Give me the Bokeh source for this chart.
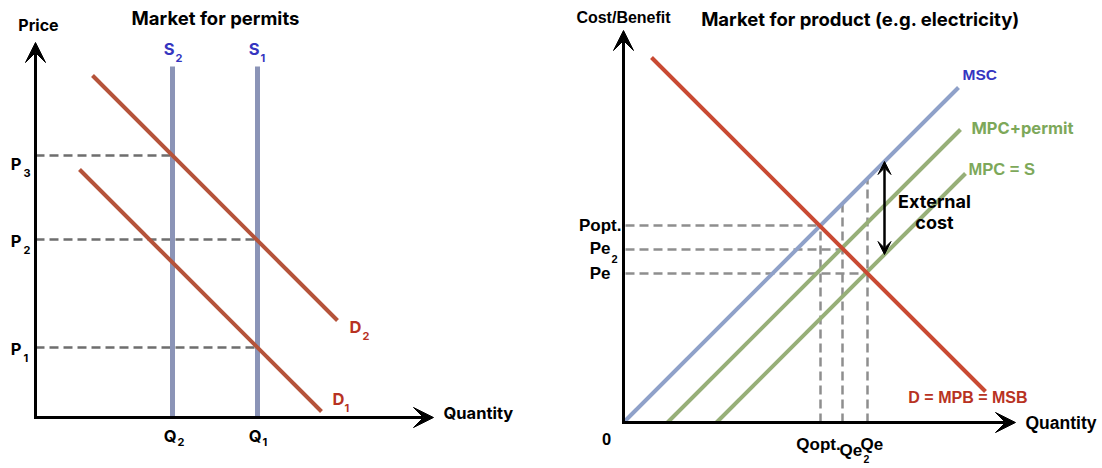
import numpy as np
from bokeh.plotting import figure
from bokeh.models import Range1d, Label, Arrow, VeeHead
from bokeh.layouts import row
from bokeh.embed import file_html
from bokeh.resources import INLINE

# ---------------- data: market for permits ----------------
permit_title = "Market for permits"
supply_q = [137, 222]            # S2, S1 (quantity of permits)
supply_subs = ["2", "1"]
supply_top = 351
price_levels = [262, 178, 70]    # P3, P2, P1
price_subs = ["3", "2", "1"]
price_end_q = [137, 222, 222]    # where each price meets its supply line
d2_q = [57, 302]
d2_p = [342, 97]
d1_q = [44, 286]
d1_p = [248, 6]
left_axis_ext = [398, 375]       # x tip, y tip

# ---------------- data: market for product ----------------
product_title = "Market for product (e.g. electricity)"
mpb_q = [28, 362]
mpb_p = [365, 31]
msc_q = [0, 335]
msc_p = [0, 335]
mpcp_q = [44, 337]
mpcp_p = [0, 293]
mpc_q = [93, 342]
mpc_p = [0, 249]
eq_q = [197, 219, 244]           # Qopt, Qe2, Qe
eq_p = [197, 173, 149]           # Popt, Pe2, Pe
ext_cost_q = 261
right_axis_ext = [392, 392]

# ---------------- styles ----------------
SANS = "Inter"
ARIAL = "Liberation Sans"
BLACK = "#000000"
S_COL = "#8b94b7"
D_COL = "#b5533a"
DASH_L = "#6e6e6e"
DASH_R = "#8e8e8e"
LBL_BLUE = "#3535c0"
LBL_RED = "#b83222"
MPB_COL = "#c94a33"
MSC_COL = "#8fa1c9"
GREEN = "#97af78"
LBL_GREEN = "#7da85a"


def lbl(p, x, y, text, size=13, color=BLACK, font=SANS, align="left",
        dx=0, dy=0, style="bold"):
    p.add_layout(Label(x=x + dx, y=y - dy, text=text, text_font=font,
                       text_font_size=f"{size}px", text_font_style=style,
                       text_color=color, text_align=align,
                       text_baseline="middle"))


def make_fig(xr, yr, w, h):
    p = figure(width=w, height=h, x_range=Range1d(*xr), y_range=Range1d(*yr),
               output_backend="svg", toolbar_location=None,
               x_axis_location=None, y_axis_location=None,
               min_border=0, min_border_left=0, min_border_right=0,
               min_border_top=0, min_border_bottom=0)
    p.grid.visible = False
    p.outline_line_color = None
    return p


# ================= LEFT PANEL =================
L = make_fig((-35, 515), (-49, 417), 550, 466)

for pl, qe in zip(price_levels, price_end_q):
    L.line([0, qe], [pl, pl], line_color=DASH_L, line_width=2.5,
           line_dash="9 5")

for q in supply_q:
    L.line([q, q], [0, supply_top], line_color=S_COL, line_width=5)

L.line(d2_q, d2_p, line_color=D_COL, line_width=4)
L.line(d1_q, d1_p, line_color=D_COL, line_width=4)

L.add_layout(Arrow(x_start=0, y_start=-1.5, x_end=0, y_end=left_axis_ext[1],
                   line_width=3, line_color=BLACK,
                   end=VeeHead(size=20, fill_color=BLACK, line_color=BLACK)))
L.add_layout(Arrow(x_start=-1.5, y_start=0, x_end=left_axis_ext[0], y_end=0,
                   line_width=3, line_color=BLACK,
                   end=VeeHead(size=20, fill_color=BLACK, line_color=BLACK)))

lbl(L, 180, 400, permit_title, size=18.5, align="center")
lbl(L, 3, left_axis_ext[1] + 18, "Price", size=16, align="center")
lbl(L, left_axis_ext[0], 0, "Quantity", size=16.5, dx=10, dy=-5)

for pl, s, ddy in zip(price_levels, price_subs, [8, 1, 1]):
    lbl(L, 0, pl, "P", size=16.5, align="right", dx=-14, dy=ddy)
    lbl(L, 0, pl, s, size=11, dx=-12, dy=ddy + 9)

for q, s in zip(supply_q, supply_subs):
    lbl(L, q, supply_top, "S", size=16.5, color=LBL_BLUE, align="right",
        dx=2, dy=-18)
    lbl(L, q, supply_top, s, size=11, color=LBL_BLUE, dx=3, dy=-9)
    lbl(L, q, 0, "Q", size=16.5, align="right", dx=4, dy=18)
    lbl(L, q, 0, s, size=11, dx=5, dy=24)

lbl(L, d2_q[1], d2_p[1], "D", size=16.5, color=LBL_RED, dx=12, dy=6)
lbl(L, d2_q[1], d2_p[1], "2", size=11, color=LBL_RED, dx=25, dy=15)
lbl(L, d1_q[1], d1_p[1], "D", size=16.5, color=LBL_RED, dx=11, dy=-13)
lbl(L, d1_q[1], d1_p[1], "1", size=11, color=LBL_RED, dx=23, dy=-4)

# ================= RIGHT PANEL =================
R = make_fig((-73, 477), (-44, 422), 550, 466)

msc_top = [float(np.interp(q, msc_q, msc_p)) for q in eq_q]
for q, pp, top in zip(eq_q, eq_p, msc_top):
    R.line([2, q], [pp, pp], line_color=DASH_R, line_width=2.5,
           line_dash="9 5")
    R.line([q, q], [0, max(top, pp)], line_color=DASH_R, line_width=2.5,
           line_dash="9 5")

R.line(msc_q, msc_p, line_color=MSC_COL, line_width=4)
R.line(mpcp_q, mpcp_p, line_color=GREEN, line_width=4)
R.line(mpc_q, mpc_p, line_color=GREEN, line_width=4)
R.line(mpb_q, mpb_p, line_color=MPB_COL, line_width=4)

R.add_layout(Arrow(x_start=0, y_start=-1.5, x_end=0, y_end=right_axis_ext[1],
                   line_width=3, line_color=BLACK,
                   end=VeeHead(size=20, fill_color=BLACK, line_color=BLACK)))
R.add_layout(Arrow(x_start=-1.5, y_start=0, x_end=right_axis_ext[0], y_end=0,
                   line_width=3, line_color=BLACK,
                   end=VeeHead(size=20, fill_color=BLACK, line_color=BLACK)))

ec_lo = float(np.interp(ext_cost_q, mpc_q, mpc_p))
ec_hi = float(np.interp(ext_cost_q, msc_q, msc_p))
R.add_layout(Arrow(x_start=ext_cost_q, y_start=ec_lo, x_end=ext_cost_q,
                   y_end=ec_hi, line_width=2.5, line_color=BLACK,
                   start=VeeHead(size=13, fill_color=BLACK, line_color=BLACK),
                   end=VeeHead(size=13, fill_color=BLACK, line_color=BLACK)))
ec_mid = (ec_lo + ec_hi) / 2
lbl(R, ext_cost_q, ec_mid, "External", size=18, align="center", dx=50, dy=-7)
lbl(R, ext_cost_q, ec_mid, "cost", size=18, align="center", dx=50, dy=14)

lbl(R, 237, 404, product_title, size=18.5, align="center")
lbl(R, 0, right_axis_ext[1], "Cost/Benefit", size=16, font=ARIAL,
    align="center", dy=-13)
lbl(R, right_axis_ext[0], 0, "Quantity", size=17.5, font=ARIAL, dx=10, dy=0)
lbl(R, 0, 0, "0", size=16.5, font=ARIAL, align="center", dx=-17, dy=16)

lbl(R, 0, eq_p[0], "Popt.", size=17, font=ARIAL, align="right", dx=-2)
lbl(R, 0, eq_p[1], "Pe", size=17, font=ARIAL, align="right", dx=-13, dy=-1)
lbl(R, 0, eq_p[1], "2", size=11, font=ARIAL, dx=-12, dy=9)
lbl(R, 0, eq_p[2], "Pe", size=17, font=ARIAL, align="right", dx=-13)

lbl(R, eq_q[0], 0, "Qopt.", size=17, font=ARIAL, align="center", dx=-2, dy=22)
lbl(R, eq_q[1], 0, "Qe", size=17, font=ARIAL, dx=-3, dy=28)
lbl(R, eq_q[1], 0, "2", size=10.5, font=ARIAL, dx=21, dy=36)
lbl(R, eq_q[2], 0, "Qe", size=17, font=ARIAL, dx=-7, dy=22)

lbl(R, msc_q[1], msc_p[1], "MSC", size=15.5, font=ARIAL, color=LBL_BLUE,
    dx=4, dy=-13)
lbl(R, mpcp_q[1], mpcp_p[1], "MPC+permit", size=16.5, color=LBL_GREEN,
    dx=11, dy=-2)
lbl(R, mpc_q[1], mpc_p[1], "MPC = S", size=16.5, font=ARIAL, color=LBL_GREEN,
    dx=3, dy=-5)
lbl(R, mpb_q[1], mpb_p[1], "D = MPB = MSB", size=16, font=ARIAL,
    color=LBL_RED, align="right", dx=42, dy=6)

layout = row(L, R)
open("out.html", "w").write(file_html(layout, INLINE))
